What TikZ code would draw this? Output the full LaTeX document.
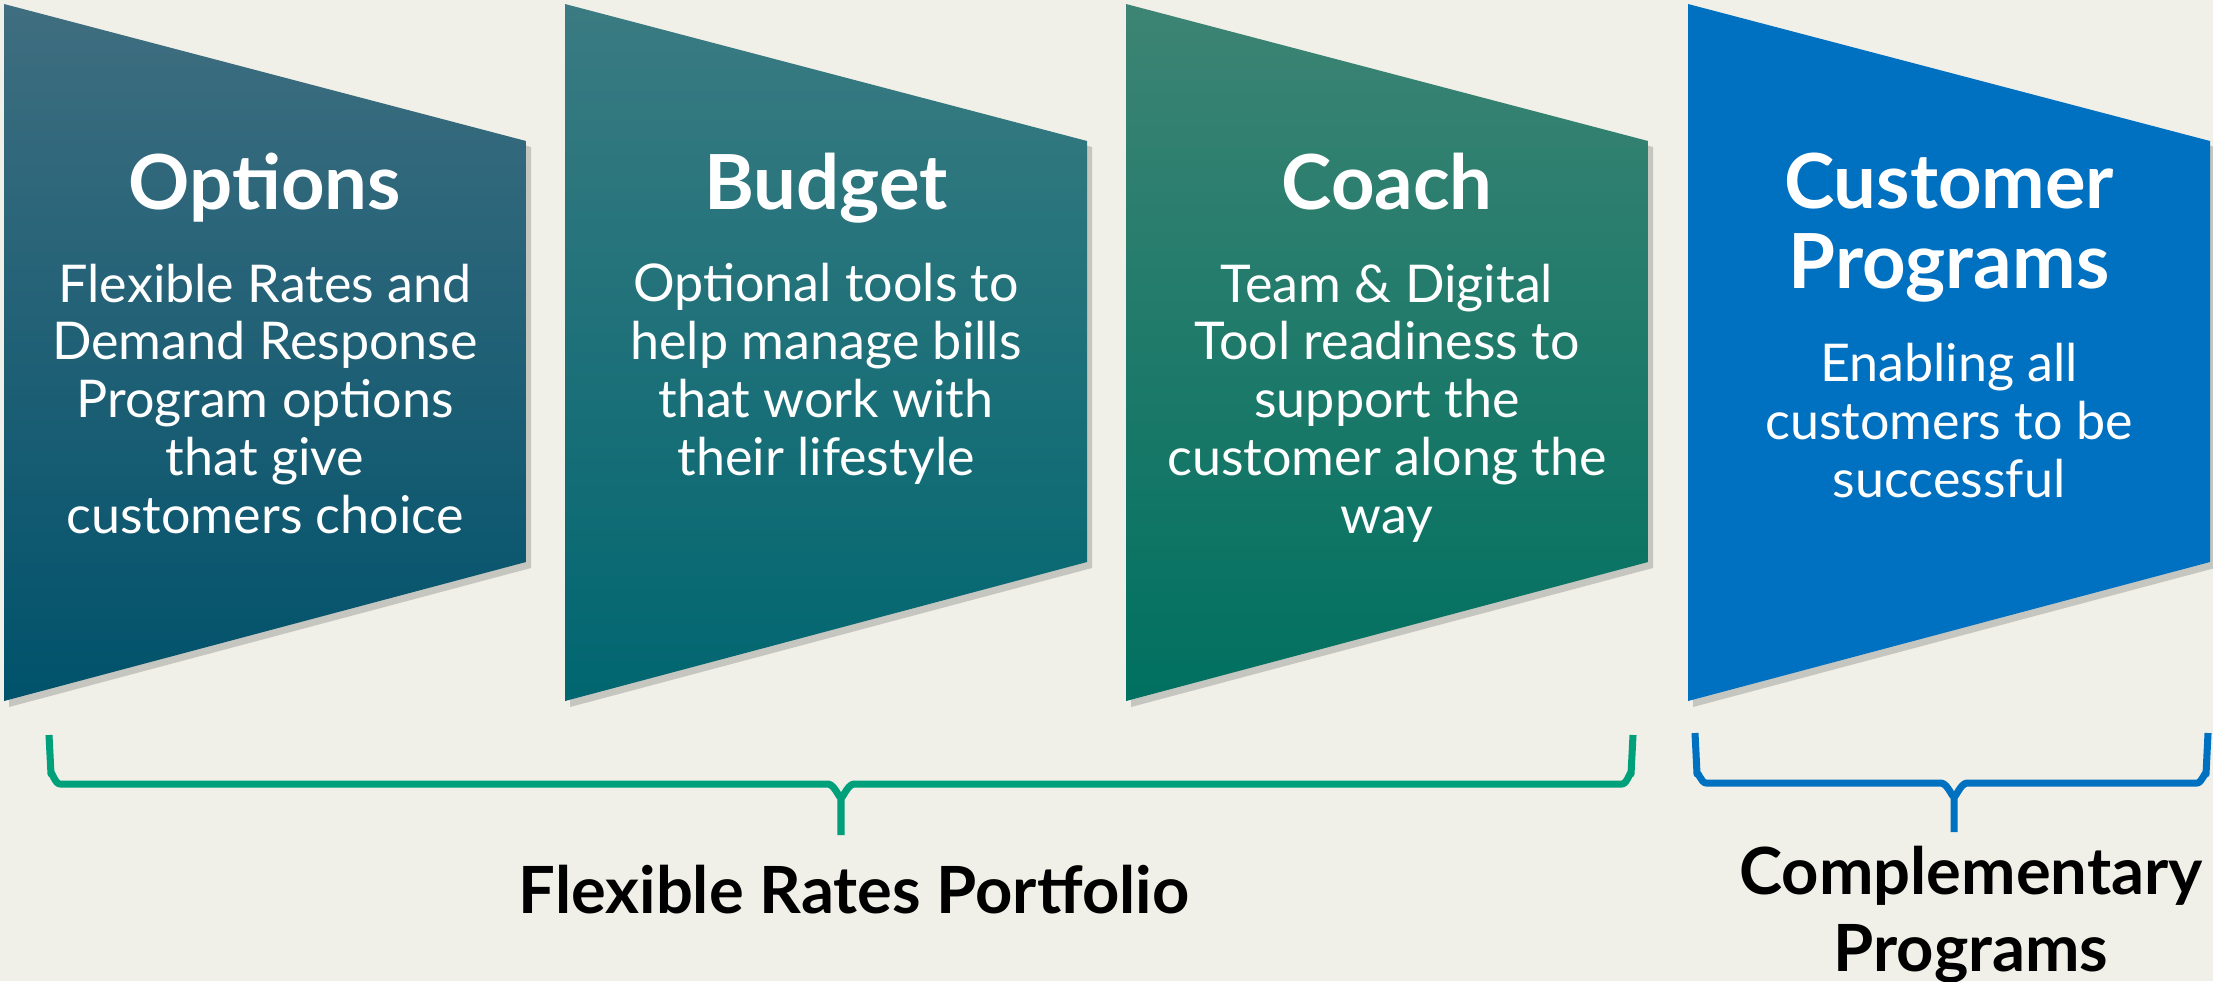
\documentclass[tikz,border=0pt]{standalone}
\usepackage{fontspec}
\setmainfont{Lato}
\usetikzlibrary{shadows}

\definecolor{pagebg}{HTML}{F0F0E8}
\definecolor{optTop}{HTML}{3F6E80}
\definecolor{optBot}{HTML}{00526B}
\definecolor{budTop}{HTML}{3B7B82}
\definecolor{budBot}{HTML}{006670}
\definecolor{coaTop}{HTML}{3D8474}
\definecolor{coaBot}{HTML}{007060}
\definecolor{custBlue}{HTML}{0070C0}
\definecolor{braceGreen}{HTML}{00A07A}

\begin{document}
\begin{tikzpicture}[
  x=0.01cm, y=-0.01cm,
  panel/.style = {drop shadow={shadow xshift=0.05cm, shadow yshift=-0.06cm,
                  opacity=0.25, fill=black!70}},
  head/.style  = {anchor=base, align=center, text=white, inner sep=0pt,
                  font=\fontsize{21.6}{22.7}\selectfont\bfseries},
  body/.style  = {anchor=base, align=center, text=white, inner sep=0pt,
                  font=\fontsize{14.8}{16.4}\selectfont},
  brace/.style = {line width=2pt, line join=round},
  group/.style = {anchor=base, align=center, inner sep=0pt,
                  font=\fontsize{18.5}{21.8}\selectfont\bfseries},
]

  \useasboundingbox (0,0) rectangle (2213,981);
  \fill[pagebg] (0,0) rectangle (2213,981);

  % ── the four panels ───────────────────────────────────────────────────
  \path[panel, top color=optTop, middle color=optBot!88!optTop, bottom color=optBot]
    (4,4) -- (526,141) -- (526,562) -- (4,701) -- cycle;
  \path[panel, top color=budTop, middle color=budBot!88!budTop, bottom color=budBot]
    (565,4) -- (1087,141) -- (1087,562) -- (565,701) -- cycle;
  \path[panel, top color=coaTop, middle color=coaBot!88!coaTop, bottom color=coaBot]
    (1126,4) -- (1648,141) -- (1648,562) -- (1126,701) -- cycle;
  \path[panel, fill=custBlue]
    (1688,4) -- (2210,141) -- (2210,562) -- (1688,701) -- cycle;

  % base anchor of a multi-line node sits on its last line
  \node[head] (optT)  at (265,209)  {Options};
  \node[body] (optB)  at (265,533)  {Flexible Rates and\\Demand Response\\Program options\\that give\\customers choice};

  \node[head] (budT)  at (826,209)  {Budget};
  \node[body] (budB)  at (826,475)  {Optional tools to\\help manage bills\\that work with\\their lifestyle};

  \node[head] (coaT)  at (1387,209) {Coach};
  \node[body] (coaB)  at (1387,533) {Team \& Digital\\Tool readiness to\\support the\\customer along the\\way};

  \node[head] (custT) at (1949,288) {Customer\\Programs};
  \node[body] (custB) at (1949,497) {Enabling all\\customers to be\\successful};

  % ── braces and group labels ───────────────────────────────────────────
  \coordinate (gTip) at (841,835);
  \draw[brace, braceGreen] (49,735) -- (51,774) to[out=90,in=180] (60,784)
    -- (828,784) to[out=0,in=-90] (gTip |- 0,796) -- (gTip);
  \draw[brace, braceGreen] (1633,735) -- (1631,774) to[out=90,in=0] (1622,784)
    -- (854,784) to[out=180,in=-90] (gTip |- 0,796);

  \coordinate (bTip) at (1954,832);
  \draw[brace, custBlue] (1695,733) -- (1697,774) to[out=90,in=180] (1706,783)
    -- (1941,783) to[out=0,in=-90] (bTip |- 0,795) -- (bTip);
  \draw[brace, custBlue] (2208,733) -- (2206,774) to[out=90,in=0] (2197,783)
    -- (1967,783) to[out=180,in=-90] (bTip |- 0,795);

  \node[group] (flexLbl) at (854,913)  {Flexible Rates Portfolio};
  \node[group] (compLbl) at (1971,971) {Complementary\\Programs};

\end{tikzpicture}
\end{document}
